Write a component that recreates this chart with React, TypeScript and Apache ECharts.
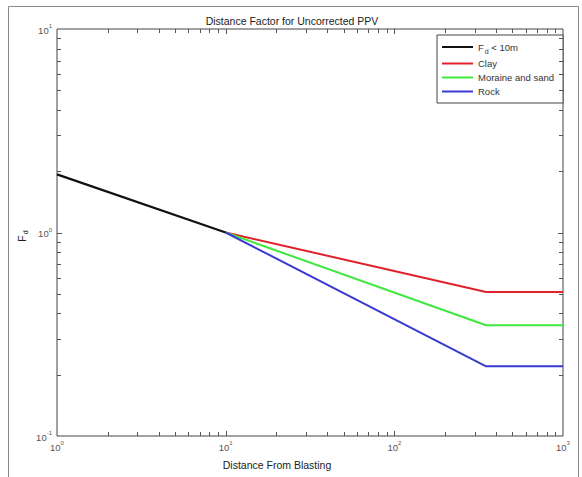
import React, { useEffect, useRef } from "react";
import * as echarts from "echarts";

const titleText = "Distance Factor for Uncorrected PPV";
const xAxisName = "Distance From Blasting";
const seriesNames = ["Fd < 10m", "Clay", "Moraine and sand", "Rock"];
const seriesColors = ["#111111", "#e0202a", "#3ee83e", "#3a3ad0"];

const nearX = [1, 10];
const nearY = [1.93, 1];
const farX = [10, 350, 1000];
const clayY = [1, 0.51, 0.51];
const moraineY = [1, 0.35, 0.35];
const rockY = [1, 0.22, 0.22];

const xMajorTicks = [10, 100];
const xMinorTicks = [2, 3, 4, 5, 6, 7, 8, 9, 20, 30, 40, 50, 60, 70, 80, 90, 200, 300, 400, 500, 600, 700, 800, 900];
const yMajorTicks = [1];
const yMinorTicks = [0.2, 0.3, 0.4, 0.5, 0.6, 0.7, 0.8, 0.9, 2, 3, 4, 5, 6, 7, 8, 9];

const X_MIN = 1, X_MAX = 1000, Y_MIN = 0.1, Y_MAX = 10;

const zip = (xs: number[], ys: number[]) => xs.map((x, i) => [x, ys[i]]);

const supLabel = (v: number) => `{b|10}{s|${Math.round(Math.log10(v))}}`;
const labelRich = {
  b: { fontSize: 9.5, color: "#555", fontFamily: "Liberation Sans", lineHeight: 12, verticalAlign: "bottom" },
  s: { fontSize: 6, color: "#555", fontFamily: "Liberation Sans", lineHeight: 12, verticalAlign: "top", padding: [0, 0, 4, 0] },
};

export default function App() {
  const ref = useRef<HTMLDivElement>(null);
  useEffect(() => {
    if (!ref.current) return;
    const chart = echarts.init(ref.current, undefined, { renderer: "svg" });

    const tickColor = "#555";
    const xTickData = [
      ...xMajorTicks.map((v) => [v, 1, 5]),
      ...xMinorTicks.map((v) => [v, 1, 4]),
    ];
    const yTickData = [
      ...yMajorTicks.map((v) => [1, v, 5]),
      ...yMinorTicks.map((v) => [1, v, 4]),
    ];

    const lineSeries = [
      { name: seriesNames[1], data: zip(farX, clayY), color: seriesColors[1], w: 2 },
      { name: seriesNames[2], data: zip(farX, moraineY), color: seriesColors[2], w: 2 },
      { name: seriesNames[3], data: zip(farX, rockY), color: seriesColors[3], w: 2 },
      { name: seriesNames[0], data: zip(nearX, nearY), color: seriesColors[0], w: 2.2 },
    ].map((s) => ({
      type: "line",
      name: s.name,
      data: s.data,
      symbol: "none",
      color: s.color,
      lineStyle: { color: s.color, width: s.w },
      z: 3,
    }));

    chart.setOption({
      animation: false,
      backgroundColor: "#ffffff",
      textStyle: { fontFamily: "Liberation Sans" },
      title: {
        text: titleText,
        left: 287,
        textAlign: "center",
        top: 10,
        textStyle: { fontSize: 10.5, fontWeight: "normal", color: "#222", fontFamily: "Liberation Sans" },
      },
      grid: {
        left: 57,
        top: 29,
        right: 19,
        bottom: 41,
        show: true,
        borderColor: "#444",
        borderWidth: 1,
        backgroundColor: "transparent",
      },
      legend: {
        orient: "vertical",
        left: 437,
        top: 35,
        padding: [4, 9, 6, 5],
        itemWidth: 31,
        itemHeight: 2,
        itemGap: 3,
        icon: "rect",
        borderColor: "#444",
        borderWidth: 1,
        backgroundColor: "#fff",
        data: seriesNames,
        formatter: (name: string) => (name === "Fd < 10m" ? "F{sub|d} < 10m" : name),
        textStyle: {
          fontSize: 9.5,
          color: "#333",
          lineHeight: 11,
          fontFamily: "Liberation Sans",
          rich: {
            sub: { fontSize: 7, color: "#333", padding: [9, 0, 0, 1], lineHeight: 11 },
          },
        },
      },
      xAxis: {
        type: "log",
        logBase: 10,
        min: X_MIN,
        max: X_MAX,
        axisLine: { show: false },
        axisTick: { show: false },
        splitLine: { show: false },
        axisLabel: {
          formatter: supLabel,
          rich: labelRich,
          margin: 4,
        },
      },
      yAxis: {
        type: "log",
        logBase: 10,
        min: Y_MIN,
        max: Y_MAX,
        axisLine: { show: false },
        axisTick: { show: false },
        splitLine: { show: false },
        axisLabel: {
          formatter: supLabel,
          rich: labelRich,
          margin: 5,
        },
      },
      graphic: [
        {
          type: "rect",
          shape: { x: 8.5, y: 6.5, width: 570, height: 480 },
          style: { fill: "none", stroke: "#8a8a8a", lineWidth: 1 },
          silent: true,
          z: 0,
        },
        {
          type: "text",
          x: 277,
          y: 465,
          style: {
            text: xAxisName,
            fontSize: 10.5,
            fill: "#222",
            fontFamily: "Liberation Sans",
            align: "center",
            verticalAlign: "middle",
          },
        },
        {
          type: "text",
          x: 22,
          y: 236,
          rotation: Math.PI / 2,
          style: {
            text: "F{sub|d}",
            fontSize: 10.5,
            fill: "#222",
            fontFamily: "Liberation Sans",
            align: "center",
            verticalAlign: "middle",
            rich: {
              sub: { fontSize: 7, fill: "#222", padding: [6, 0, 0, 1] },
            },
          },
        },
      ],
      series: [
        ...lineSeries,
        {
          type: "custom",
          name: "xticks",
          data: xTickData,
          silent: true,
          z: 4,
          renderItem: (params: any, api: any) => {
            const v = api.value(0);
            const len = api.value(2);
            const b = api.coord([v, Y_MIN]);
            const t = api.coord([v, Y_MAX]);
            const x = Math.round(b[0]) + 0.5;
            return {
              type: "group",
              children: [
                { type: "line", shape: { x1: x, y1: b[1], x2: x, y2: b[1] - len }, style: { stroke: tickColor, lineWidth: 1 } },
                { type: "line", shape: { x1: x, y1: t[1], x2: x, y2: t[1] + len }, style: { stroke: tickColor, lineWidth: 1 } },
              ],
            };
          },
        },
        {
          type: "custom",
          name: "yticks",
          data: yTickData,
          silent: true,
          z: 4,
          renderItem: (params: any, api: any) => {
            const v = api.value(1);
            const len = api.value(2);
            const l = api.coord([X_MIN, v]);
            const r = api.coord([X_MAX, v]);
            const y = Math.round(l[1]) + 0.5;
            return {
              type: "group",
              children: [
                { type: "line", shape: { x1: l[0], y1: y, x2: l[0] + len, y2: y }, style: { stroke: tickColor, lineWidth: 1 } },
                { type: "line", shape: { x1: r[0], y1: y, x2: r[0] - len, y2: y }, style: { stroke: tickColor, lineWidth: 1 } },
              ],
            };
          },
        },
      ],
    });
    return () => chart.dispose();
  }, []);
  return <div ref={ref} style={{ position: "fixed", left: 0, top: 0, width: 582, height: 477 }} />;
}
